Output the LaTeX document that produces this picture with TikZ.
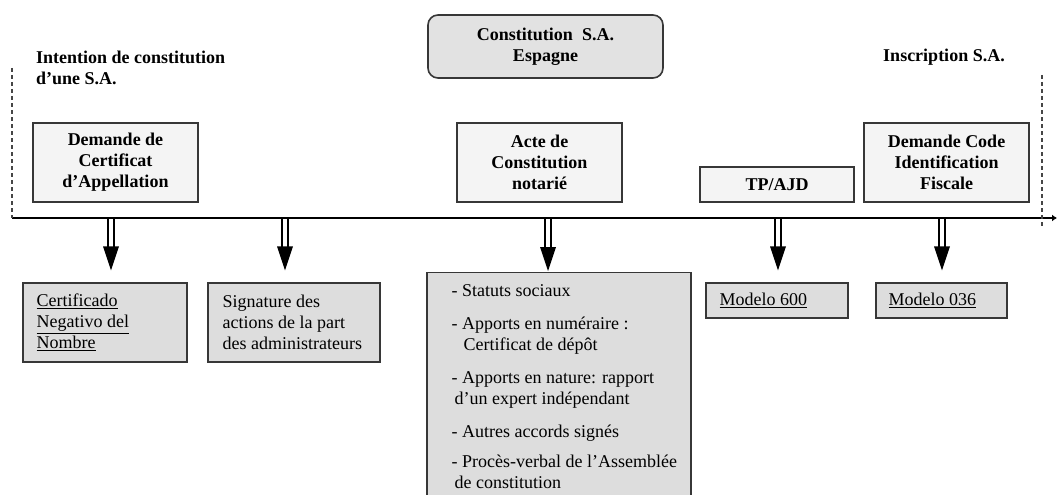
\documentclass[tikz,border=0pt]{standalone}
\usepackage{fontspec}
\setmainfont{Liberation Serif}
\usetikzlibrary{calc,positioning,arrows.meta}
\definecolor{boxline}{RGB}{55,55,55}
\definecolor{topfill}{RGB}{244,244,244}
\definecolor{lowfill}{RGB}{221,221,221}
\definecolor{rndfill}{RGB}{226,226,226}
\definecolor{dashgray}{RGB}{70,70,70}
\newcommand{\txtfont}{\fontsize{18}{21}\selectfont}
\tikzset{
    stagebox/.style={draw=boxline, line width=1.2pt, fill=topfill, align=center, inner sep=0pt, font=\txtfont\bfseries},
    docbox/.style={draw=boxline, line width=1.2pt, fill=lowfill, inner sep=0pt},
    doctext/.style={align=left, inner sep=0pt, font=\txtfont},
    headtext/.style={align=left, inner sep=0pt, font=\txtfont\bfseries},
    shaft/.style={double, double distance=3.5pt, line width=2.2pt},
}
\begin{document}
\begin{tikzpicture}[x=1pt, y=-1pt]
    \useasboundingbox (0,0) rectangle (1058,495);

    % Define points on the timeline
    \coordinate (tl0) at (12,218);
    \coordinate (tl1) at (1057,218);
    \coordinate (a1) at (111,219);
    \coordinate (a2) at (285,219);
    \coordinate (a3) at (548,219);
    \coordinate (a4) at (778,219);
    \coordinate (a5) at (942,219);

    % Titles
    \node[headtext, anchor=west] (intent) at (36,68) {Intention de constitution\\d’une S.A.};
    \node[headtext] (inscr) at (944,57) {Inscription S.A.};
    \node[stagebox, fill=rndfill, rounded corners=10pt, line width=1.6pt, minimum width=235, minimum height=63] (constit) at (545.5,46.5) {Constitution\ \ S.A.\\Espagne};

    % Steps above the line
    \node[stagebox, minimum width=165, minimum height=79] (dcert) at (115.5,162.5) {Demande de\\Certificat\\d’Appellation};
    \node[stagebox, minimum width=165, minimum height=79] (acte) at (539.5,162.5) {Acte de\\Constitution\\notarié};
    \node[stagebox, minimum width=154, minimum height=35] (tpajd) at (777,184.5) {TP/AJD};
    \node[stagebox, minimum width=165, minimum height=79] (dcode) at (946.5,162.5) {Demande Code\\Identification\\Fiscale};

    % Documents below the line
    \node[docbox, minimum width=164, minimum height=79] (cert) at (105,322.5) {};
    \node[doctext, right=14pt of cert.west] (certtxt) {\underline{Certificado}\\\underline{Negativo del}\\\underline{Nombre}};
    \node[docbox, minimum width=172, minimum height=79] (sign) at (294,322.5) {};
    \node[doctext, right=15pt of sign.west] (signtxt) {Signature des\\actions de la part\\des administrateurs};
    \node[docbox, anchor=north, minimum width=264, minimum height=240] (big) at (559,272) {};
    \node[doctext, below right=12pt and 25pt of big.north west] (bigtxt) {- Statuts sociaux\\[12pt]
        - Apports en numéraire :\\
        \hspace*{12pt}Certificat de dépôt\\[12pt]
        - Apports en nature: rapport\\
        \hspace*{3pt}d’un expert indépendant\\[12pt]
        - Autres accords signés\\[9pt]
        - Procès-verbal de l’Assemblée\\
        \hspace*{3pt}de constitution};
    \node[docbox, minimum width=142, minimum height=35] (m600) at (777,300.5) {};
    \node[doctext, right=14pt of m600.west] (m600txt) {\underline{Modelo 600}};
    \node[docbox, minimum width=131, minimum height=35] (m036) at (941.5,300.5) {};
    \node[doctext, right=13pt of m036.west] (m036txt) {\underline{Modelo 036}};

    % Arrows down to the documents
    \foreach \t/\b/\g in {a1/cert/12, a2/sign/12, a3/big/1, a4/m600/12, a5/m036/12} {
        \draw[shaft] (\t) -- ($(\t |- \b.north)+(0,-\g-22)$);
        \fill ($(\t |- \b.north)+(0,-\g)$) -- ++(-8,-24) -- ++(16,0) -- cycle;
    }

    % Timeline and limits
    \draw[line width=1.7pt, -{Latex[length=5pt,width=7pt]}] (tl0) -- (tl1);
    \draw[dashgray, line width=1.3pt, dash pattern=on 4pt off 3pt] (12,68) -- (tl0);
    \draw[dashgray, line width=1.3pt, dash pattern=on 4pt off 3pt] (1042,75) -- (1042,226);

\end{tikzpicture}
\end{document}
